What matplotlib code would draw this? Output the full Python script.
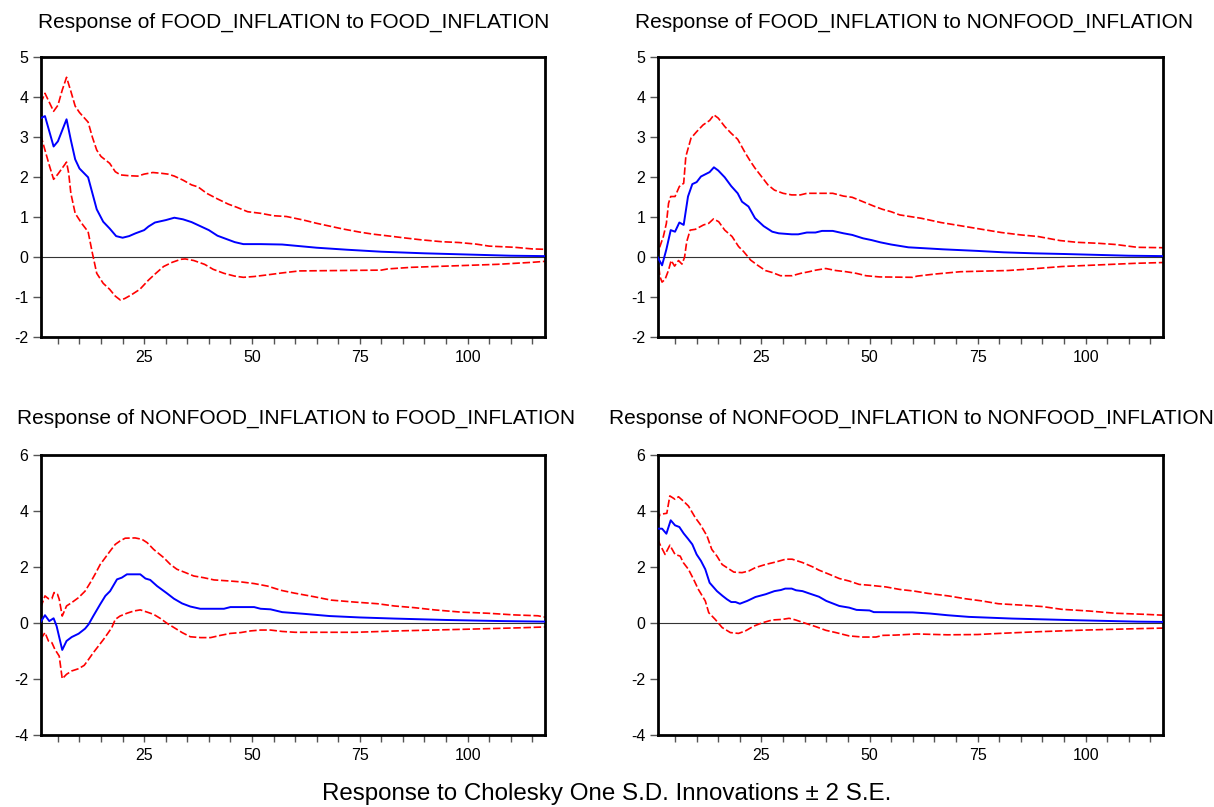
import matplotlib.pyplot as plt
from matplotlib.ticker import MultipleLocator

plt.rcParams['font.family'] = ['Liberation Sans', 'DejaVu Sans']
plt.rcParams['axes.unicode_minus'] = False

# ---- data (period, response) ----
titles = ['Response of FOOD_INFLATION to FOOD_INFLATION',
          'Response of FOOD_INFLATION to NONFOOD_INFLATION',
          'Response of NONFOOD_INFLATION to FOOD_INFLATION',
          'Response of NONFOOD_INFLATION to NONFOOD_INFLATION']
caption = 'Response to Cholesky One S.D. Innovations \u00b1 2 S.E.'

# FOOD to FOOD
a_mid_t = [1, 2, 4, 5, 7, 8, 9, 10, 12, 14, 15.5, 17, 18.5, 20, 21.5, 23, 25, 26, 27.5, 30,
           32, 34, 36, 38, 40, 42, 44, 46, 48, 52, 57, 60, 65, 72, 80, 90, 100, 110, 118]
a_mid = [3.48, 3.53, 2.77, 2.9, 3.45, 2.93, 2.45, 2.22, 2.0, 1.2, 0.89, 0.72, 0.53, 0.49, 0.53, 0.6, 0.68, 0.77, 0.87, 0.93,
         0.99, 0.95, 0.88, 0.78, 0.68, 0.54, 0.46, 0.38, 0.33, 0.33, 0.32, 0.29, 0.24, 0.19, 0.14, 0.1, 0.07, 0.04, 0.03]
a_up_t = [1, 2, 4, 5, 6, 7, 8, 9, 10, 12, 13, 14, 15, 17, 18.3, 19.5, 21.5, 23.5, 25, 27,
          29, 30.5, 32, 34, 36, 37.5, 39.5, 42, 44.5, 46.5, 49, 52, 55, 58, 62, 65, 68, 71, 75, 78,
          82, 85, 89, 94, 98, 102, 105, 111, 115, 118]
a_up = [3.85, 4.1, 3.65, 3.8, 4.18, 4.5, 4.15, 3.78, 3.62, 3.38, 3.0, 2.68, 2.52, 2.35, 2.14, 2.06, 2.04, 2.03, 2.08, 2.12,
        2.1, 2.08, 2.03, 1.93, 1.81, 1.76, 1.6, 1.46, 1.33, 1.25, 1.14, 1.1, 1.04, 1.02, 0.93, 0.85, 0.78, 0.71, 0.63, 0.58,
        0.53, 0.49, 0.44, 0.39, 0.37, 0.33, 0.28, 0.25, 0.21, 0.2]
a_lo_t = [1, 2, 3, 4, 5, 7, 7.5, 8, 9, 10.5, 12, 13, 14, 15.5, 17, 18.3, 19.5, 20.5, 22, 24,
          26, 27.5, 29.5, 31.5, 33.5, 34.5, 36.5, 39, 41, 43.5, 46, 48, 50.5, 53.5, 57, 61, 80, 81.5, 87, 95,
          107, 115, 118]
a_lo = [3.06, 2.68, 2.3, 1.95, 2.08, 2.38, 2.1, 1.6, 1.1, 0.85, 0.64, 0.1, -0.4, -0.65, -0.8, -0.97, -1.07, -1.03, -0.94, -0.8,
        -0.57, -0.42, -0.23, -0.125, -0.05, -0.04, -0.08, -0.175, -0.3, -0.4, -0.47, -0.5, -0.48, -0.44, -0.39, -0.34, -0.32, -0.29, -0.25, -0.22,
        -0.175, -0.125, -0.1]

# FOOD to NONFOOD
b_mid_t = [1, 2, 3, 4, 5, 6, 7, 8, 9, 10, 11, 13, 14, 15, 16.5, 18, 19.5, 20.5, 22, 23.5,
           25.5, 27.5, 29, 32, 33.5, 35.5, 37.5, 39, 41.5, 44, 46, 48.5, 50.5, 52.5, 55, 59, 67, 75, 81, 88,
           95, 103, 110, 118]
b_mid = [0, -0.2, 0.2, 0.68, 0.64, 0.87, 0.81, 1.52, 1.83, 1.88, 2.02, 2.13, 2.25, 2.17, 2.0, 1.78, 1.6, 1.39, 1.27, 0.98,
         0.78, 0.64, 0.6, 0.575, 0.575, 0.62, 0.62, 0.66, 0.66, 0.6, 0.56, 0.475, 0.43, 0.375, 0.32, 0.25, 0.2, 0.16, 0.125, 0.1,
         0.083, 0.06, 0.04, 0.03]
b_up_t = [1, 1.5, 2.3, 3, 3.5, 4, 5, 6, 7, 7.5, 8.7, 10, 11.5, 13, 14, 15, 16.5, 18, 19.5, 21.3,
          22.5, 23.5, 25, 26.5, 28, 30, 32, 34, 35.5, 41.5, 44, 46, 48.5, 51, 53, 55, 57, 62, 66.5, 71,
          76, 80.5, 85, 89, 94, 98, 103, 107, 112, 118]
b_up = [0, 0.27, 0.52, 0.85, 1.35, 1.52, 1.52, 1.77, 1.85, 2.52, 2.98, 3.14, 3.31, 3.42, 3.56, 3.48, 3.27, 3.1, 2.95, 2.6,
        2.39, 2.23, 2.02, 1.81, 1.68, 1.6, 1.56, 1.56, 1.6, 1.6, 1.53, 1.5, 1.39, 1.28, 1.2, 1.14, 1.06, 0.975, 0.87, 0.79,
        0.7, 0.62, 0.56, 0.52, 0.42, 0.375, 0.35, 0.32, 0.25, 0.24]
b_lo_t = [1, 1.5, 2, 2.7, 3.5, 4.1, 4.9, 5.8, 6.6, 7.2, 7.7, 8.5, 9.7, 11.6, 12.8, 13.9, 15.1, 16.5, 18.2, 19.7,
          20.9, 22.5, 24, 25.9, 27.5, 29.4, 32.1, 34.1, 36, 37.6, 39.9, 42.2, 44.6, 46.9, 49.2, 52.3, 60, 61, 65, 71,
          82, 87.5, 94.5, 103, 111.5, 118]
b_lo = [0, -0.48, -0.62, -0.55, -0.32, -0.08, -0.22, -0.08, -0.17, 0, 0.39, 0.68, 0.7, 0.81, 0.85, 0.96, 0.89, 0.68, 0.52, 0.27,
        0.14, -0.07, -0.19, -0.33, -0.38, -0.46, -0.46, -0.4, -0.36, -0.32, -0.28, -0.33, -0.36, -0.4, -0.46, -0.49, -0.5, -0.47, -0.42, -0.36,
        -0.33, -0.29, -0.23, -0.19, -0.15, -0.13]

# NONFOOD to FOOD
c_mid_t = [1, 2, 3, 4, 4.7, 6, 7, 8.2, 9.8, 11.3, 12.1, 13.2, 14.8, 16, 17.1, 18.7, 19.8, 21, 24.1, 25.3,
           26.4, 28, 30.3, 31.9, 33.8, 35.7, 38, 43.5, 45, 50.5, 52, 54.3, 57, 62, 68, 75, 83, 95, 108, 118]
c_mid = [0.05, 0.29, 0.08, 0.18, -0.1, -0.95, -0.63, -0.49, -0.37, -0.19, -0.04, 0.26, 0.68, 0.98, 1.15, 1.57, 1.63, 1.75, 1.75, 1.6,
         1.55, 1.33, 1.07, 0.88, 0.71, 0.6, 0.52, 0.52, 0.58, 0.58, 0.52, 0.5, 0.4, 0.34, 0.26, 0.21, 0.17, 0.12, 0.08, 0.06]
c_up_t = [1, 2, 2.8, 3.6, 4.1, 4.9, 5.3, 6, 7, 8.2, 9.8, 11.3, 12.5, 13.6, 14.8, 16, 17.1, 18.3, 19.4, 20.6,
          22.9, 24.5, 25.7, 27.2, 29.5, 31.1, 32.6, 34.6, 36.5, 38.8, 41.2, 45, 47.4, 50.5, 53.6, 56.7, 59.8, 64.4, 68.3, 73.7,
          79.1, 83, 87.6, 92.3, 98.5, 104.7, 110.9, 116.3, 118]
c_up = [0.56, 0.98, 0.88, 0.88, 1.1, 1.04, 0.86, 0.26, 0.62, 0.74, 0.92, 1.15, 1.45, 1.75, 2.1, 2.35, 2.58, 2.82, 2.94, 3.04,
        3.05, 3.0, 2.88, 2.64, 2.35, 2.1, 1.93, 1.81, 1.69, 1.63, 1.55, 1.51, 1.48, 1.42, 1.33, 1.18, 1.08, 0.95, 0.83, 0.76,
        0.7, 0.62, 0.56, 0.48, 0.4, 0.36, 0.3, 0.27, 0.22]
c_lo_t = [1, 2, 2.8, 3.6, 4.3, 5.3, 6, 7, 8.2, 9.8, 11.1, 12.1, 13.2, 14.4, 15.6, 16.7, 17.5, 18.3, 19.4, 21,
          22.6, 24.1, 25.7, 27.2, 28.8, 30.3, 31.9, 33.8, 35.7, 38.1, 40.4, 42.7, 45, 47.4, 49.7, 52, 54.3, 57, 60, 74,
          84, 100, 112, 118]
c_lo = [-0.57, -0.33, -0.63, -0.69, -0.93, -1.17, -1.98, -1.82, -1.7, -1.62, -1.5, -1.29, -1.05, -0.81, -0.57, -0.33, -0.15, 0.14, 0.26, 0.36,
        0.44, 0.48, 0.4, 0.32, 0.17, 0.0, -0.15, -0.33, -0.48, -0.51, -0.51, -0.43, -0.36, -0.33, -0.27, -0.24, -0.24, -0.29, -0.32, -0.32,
        -0.27, -0.21, -0.16, -0.13]

# NONFOOD to NONFOOD
d_mid_t = [1, 2, 3, 4, 5, 6, 7, 8, 9, 10, 11, 12, 13, 14.7, 16, 17, 18, 19, 20, 21.7,
           23.6, 26, 28, 29.5, 30.5, 32, 33, 34.5, 36, 38.3, 40, 41.5, 43, 45.3, 47, 50, 51, 60, 64, 68,
           73, 83, 98, 112, 118]
d_mid = [3.38, 3.38, 3.2, 3.68, 3.5, 3.44, 3.21, 3.02, 2.82, 2.46, 2.23, 1.93, 1.45, 1.15, 0.98, 0.86, 0.76, 0.76, 0.7, 0.8,
         0.94, 1.04, 1.15, 1.19, 1.24, 1.24, 1.18, 1.15, 1.07, 0.95, 0.8, 0.71, 0.62, 0.56, 0.48, 0.46, 0.4, 0.39, 0.35, 0.29,
         0.23, 0.17, 0.11, 0.06, 0.05]
d_up_t = [1, 1.5, 3.1, 3.8, 5, 5.8, 6.9, 8.1, 9.7, 10.8, 12.4, 13.5, 14.7, 15.9, 17, 18.6, 20.5, 22.1, 23.6, 25.9,
          28.3, 30.6, 32.1, 34.5, 36.8, 38.3, 40.7, 43, 45.3, 47.6, 50, 53.8, 57, 60.4, 63.5, 68.2, 72.1, 76, 79.8, 85.2,
          89.9, 94.5, 100.8, 106.9, 113.9, 118]
d_up = [3.65, 3.89, 3.93, 4.55, 4.43, 4.52, 4.37, 4.19, 3.77, 3.54, 3.12, 2.64, 2.4, 2.1, 1.99, 1.83, 1.81, 1.87, 1.99, 2.1,
        2.19, 2.29, 2.29, 2.17, 2.02, 1.9, 1.75, 1.6, 1.51, 1.39, 1.36, 1.3, 1.21, 1.15, 1.07, 0.98, 0.88, 0.8, 0.7, 0.65,
        0.6, 0.5, 0.44, 0.36, 0.32, 0.29]
d_lo_t = [1, 1.5, 2.7, 3.8, 5, 6.2, 6.9, 8.1, 9.3, 10.4, 12, 12.8, 14.3, 15.9, 17.8, 19.7, 21.3, 23.2, 25.2, 27.5,
          29.8, 31.4, 32.9, 35.2, 37.6, 39.9, 42.2, 45.3, 48.4, 51.5, 53.1, 56, 61, 68, 75, 80, 89, 100, 112, 118]
d_lo = [3.02, 2.82, 2.46, 2.79, 2.46, 2.4, 2.17, 1.93, 1.57, 1.21, 0.8, 0.38, 0.14, -0.15, -0.33, -0.36, -0.27, -0.1, 0.02, 0.12,
        0.14, 0.18, 0.12, 0.0, -0.12, -0.25, -0.33, -0.45, -0.49, -0.49, -0.43, -0.42, -0.38, -0.41, -0.4, -0.36, -0.3, -0.24, -0.19, -0.17]

panels = [
    (a_mid_t, a_mid, a_up_t, a_up, a_lo_t, a_lo),
    (b_mid_t, b_mid, b_up_t, b_up, b_lo_t, b_lo),
    (c_mid_t, c_mid, c_up_t, c_up, c_lo_t, c_lo),
    (d_mid_t, d_mid, d_up_t, d_up, d_lo_t, d_lo),
]
ylims = [(-2, 5, 1), (-2, 5, 1), (-4, 6, 2), (-4, 6, 2)]

fig = plt.figure(figsize=(12.14, 8.07), dpi=100)
rects = [[0.0335, 0.582, 0.4156, 0.347], [0.5418, 0.582, 0.4165, 0.347],
         [0.0335, 0.0888, 0.4156, 0.347], [0.5418, 0.0888, 0.4165, 0.347]]
title_xy = [(0.242, 0.9727), (0.753, 0.9727), (0.244, 0.482), (0.751, 0.482)]

for k in range(4):
    ax = fig.add_axes(rects[k])
    mt, mv, ut, uv, lt, lv = panels[k]
    ax.axhline(0, color='#333333', lw=0.8, zorder=1)
    ax.plot(ut, uv, color='#ff0000', lw=1.2, dashes=(4.5, 1.6), zorder=2)
    ax.plot(lt, lv, color='#ff0000', lw=1.2, dashes=(4.5, 1.6), zorder=2)
    ax.plot(mt, mv, color='#0000ff', lw=1.4, zorder=3)
    lo, hi, step = ylims[k]
    ax.set_ylim(lo, hi)
    ax.set_xlim(1, 118)
    ax.yaxis.set_major_locator(MultipleLocator(step))
    ax.xaxis.set_minor_locator(MultipleLocator(5))
    ax.set_xticks([25, 50, 75, 100])
    for s in ax.spines.values():
        s.set_linewidth(2)
    ax.tick_params(axis='y', direction='out', length=6, width=1, color='#555555',
                   labelsize=11.5, pad=3)
    ax.tick_params(axis='x', which='both', direction='out', length=5, width=1,
                   color='#555555', labelsize=11.5, pad=4)
    fig.text(title_xy[k][0], title_xy[k][1], titles[k], ha='center', va='center', fontsize=15)

fig.text(0.5, 0.016, caption, ha='center', va='center', fontsize=17.4)
fig.savefig('out.png', dpi=100)
